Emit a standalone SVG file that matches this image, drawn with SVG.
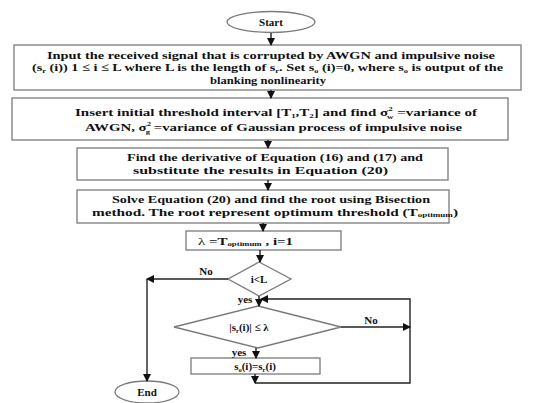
<svg xmlns="http://www.w3.org/2000/svg" width="533" height="403" viewBox="0 0 533 403">
<defs>
<marker id="ah" markerWidth="8" markerHeight="8" refX="7" refY="4" orient="auto" markerUnits="userSpaceOnUse">
<path d="M0,0 L8,4 L0,8 Z" fill="#111"/>
</marker>
<style>
.box{fill:#fff;stroke:#7a7a7a;stroke-width:1.3}
.t{font-family:"Liberation Serif","Times New Roman",serif;font-weight:bold;font-size:11px;fill:#111}
.c{stroke:#222;stroke-width:1.4;fill:none}
.s{font-size:6.5px}
</style>
</defs>
<rect width="533" height="403" fill="#fff"/>
<g id="start">
<ellipse class="box" cx="271" cy="22" rx="44" ry="10.5"/>
<text class="t" x="271" y="26" text-anchor="middle">Start</text>
</g>
<g id="input">
<rect class="box" x="14" y="45" width="507" height="45"/>
<text class="t" x="271" y="59" text-anchor="middle" textLength="448" lengthAdjust="spacingAndGlyphs">Input the received signal that is corrupted by AWGN and impulsive noise</text>
<text class="t" x="32" y="71" textLength="471" lengthAdjust="spacingAndGlyphs">(s<tspan class="s" dy="1.5">r</tspan><tspan dy="-1.5"> (i))  1 ≤ i ≤ L  where L is the length of s</tspan><tspan class="s" dy="1.5">r</tspan><tspan dy="-1.5">. Set s</tspan><tspan class="s" dy="1.5">o</tspan><tspan dy="-1.5"> (i)=0, where s</tspan><tspan class="s" dy="1.5">o</tspan><tspan dy="-1.5"> is output of the</tspan></text>
<text class="t" x="268" y="84" text-anchor="middle" textLength="116" lengthAdjust="spacingAndGlyphs">blanking nonlinearity</text>
</g>
<g id="threshold">
<rect class="box" x="12" y="98" width="496" height="42"/>
<text class="t" x="75" y="116" textLength="402" lengthAdjust="spacingAndGlyphs">Insert initial threshold interval  [T<tspan class="s" dy="2">1</tspan><tspan dy="-2">,T</tspan><tspan class="s" dy="2">2</tspan><tspan dy="-2">] and find  σ</tspan><tspan class="s" dy="-5">2</tspan><tspan class="s" dx="-4" dy="8">w</tspan><tspan dy="-3"> =variance of</tspan></text>
<text class="t" x="85" y="131" textLength="377" lengthAdjust="spacingAndGlyphs">AWGN, σ<tspan class="s" dy="-5">2</tspan><tspan class="s" dx="-4" dy="8">g</tspan><tspan dy="-3"> =variance of Gaussian process of  impulsive noise</tspan></text>
</g>
<g id="derivative">
<rect class="box" x="77" y="148" width="371" height="32"/>
<text class="t" x="127" y="161" textLength="296" lengthAdjust="spacingAndGlyphs">Find the derivative of Equation (16) and (17) and</text>
<text class="t" x="133" y="174" textLength="255" lengthAdjust="spacingAndGlyphs">substitute the results in Equation (20)</text>
</g>
<g id="solve">
<rect class="box" x="77" y="190" width="372" height="33"/>
<text class="t" x="112" y="203" textLength="318" lengthAdjust="spacingAndGlyphs">Solve Equation (20) and find the root using Bisection</text>
<text class="t" x="92" y="216" textLength="366" lengthAdjust="spacingAndGlyphs">method. The root represent optimum threshold (T<tspan class="s" dy="1">optimum</tspan><tspan dy="-1">)</tspan></text>
</g>
<g id="init">
<rect class="box" x="186" y="231" width="155" height="19"/>
<text class="t" x="198" y="245" textLength="95" lengthAdjust="spacingAndGlyphs"><tspan font-weight="normal">λ</tspan> =T<tspan class="s" dy="1">optimum</tspan><tspan dy="-1"> , i=1</tspan></text>
</g>
<g id="cond1">
<polygon class="box" points="259,262 291,279 259,296 228,279"/>
<text class="t" x="259" y="283" text-anchor="middle" font-weight="normal">i&lt;L</text>
</g>
<g id="cond2">
<polygon class="box" points="258,306 341,327 258,348 174,327"/>
<text class="t" x="249" y="331" text-anchor="middle">|s<tspan class="s" dy="2">r</tspan><tspan dy="-2">(i)|  ≤ λ</tspan></text>
</g>
<g id="assign">
<rect class="box" x="191" y="358" width="129" height="16"/>
<text class="t" x="255" y="370" text-anchor="middle" font-size="10.5">s<tspan class="s" dy="2">o</tspan><tspan dy="-2">(i)=s</tspan><tspan class="s" dy="2">r</tspan><tspan dy="-2">(i)</tspan></text>
</g>
<g id="end">
<ellipse class="box" cx="147" cy="392" rx="32" ry="11"/>
<text class="t" x="147" y="396" text-anchor="middle">End</text>
</g>
<g id="connectors">
<line class="c" x1="271" y1="33" x2="271" y2="45" marker-end="url(#ah)"/>
<line class="c" x1="271" y1="90" x2="271" y2="98" marker-end="url(#ah)"/>
<line class="c" x1="268" y1="140" x2="268" y2="148" marker-end="url(#ah)"/>
<line class="c" x1="268" y1="180" x2="268" y2="190" marker-end="url(#ah)"/>
<line class="c" x1="263" y1="223" x2="263" y2="231" marker-end="url(#ah)"/>
<line class="c" x1="260" y1="250" x2="260" y2="262" marker-end="url(#ah)"/>
<line class="c" x1="228" y1="279" x2="147" y2="279" marker-end="url(#ah)"/>
<line class="c" x1="147" y1="279" x2="147" y2="381" marker-end="url(#ah)"/>
<line class="c" x1="259" y1="296" x2="259" y2="306" marker-end="url(#ah)"/>
<polyline class="c" points="255,383 410,383 410,299 261,299" marker-end="url(#ah)"/>
<line class="c" x1="341" y1="327" x2="410" y2="327" marker-end="url(#ah)"/>
<line class="c" x1="256" y1="348" x2="256" y2="358" marker-end="url(#ah)"/>
<line class="c" x1="255" y1="374" x2="255" y2="383" marker-end="url(#ah)"/>
<text class="t" x="206" y="275" text-anchor="middle">No</text>
<text class="t" x="245" y="303" text-anchor="middle" font-size="10.5">yes</text>
<text class="t" x="371" y="324" text-anchor="middle">No</text>
<text class="t" x="239" y="356" text-anchor="middle" font-size="10.5">yes</text>
</g>
</svg>
